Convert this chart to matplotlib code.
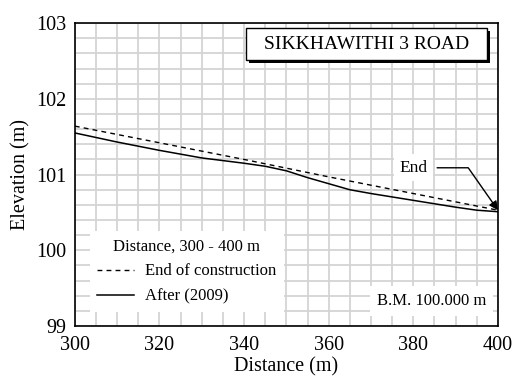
import matplotlib.pyplot as plt
from matplotlib.patches import Rectangle
from matplotlib.ticker import MultipleLocator

plt.rcParams['font.family'] = 'serif'
plt.rcParams['font.serif'] = ['Liberation Serif', 'DejaVu Serif']

# end of construction profile
dist_end = [300, 320, 340, 360, 380, 400]
elev_end = [101.64, 101.42, 101.20, 100.97, 100.75, 100.53]

# after (2009)
dist_after = [300, 310, 320, 330, 340, 345, 350, 355, 360, 365, 370, 380, 390, 395, 400]
elev_after = [101.55, 101.43, 101.32, 101.22, 101.15, 101.11, 101.05, 100.96,
              100.88, 100.80, 100.75, 100.66, 100.57, 100.53, 100.51]

fig = plt.figure(figsize=(5.16, 3.85), dpi=100)
ax = fig.add_subplot(111)
fig.subplots_adjust(left=0.145, right=0.965, top=0.940, bottom=0.153)

ax.plot(dist_end, elev_end, color='black', lw=1.0, dashes=(3.5, 3),
        label='End of construction', zorder=3)
ax.plot(dist_after, elev_after, color='black', lw=1.1,
        label='After (2009)', zorder=3)

ax.set_xlim(300, 400)
ax.set_ylim(99, 103)
ax.xaxis.set_major_locator(MultipleLocator(20))
ax.xaxis.set_minor_locator(MultipleLocator(5))
ax.yaxis.set_major_locator(MultipleLocator(1))
ax.yaxis.set_minor_locator(MultipleLocator(0.2))
ax.grid(which='both', color='#d4d4d4', lw=1.3, zorder=0)
ax.set_axisbelow(True)
ax.tick_params(which='both', length=0)
ax.tick_params(axis='x', labelsize=14.5, pad=7)
ax.tick_params(axis='y', labelsize=14.5, pad=6)
for s in ax.spines.values():
    s.set_linewidth(1.2)
    s.set_zorder(5)

ax.set_xlabel('Distance (m)', fontsize=14.5, labelpad=2)
ax.set_ylabel('Elevation (m)', fontsize=14.5, labelpad=4)

leg = ax.legend(title='Distance, 300 - 400 m', loc='lower left',
                bbox_to_anchor=(0.035, 0.046), borderaxespad=0,
                fontsize=12, title_fontsize=12, fancybox=False,
                framealpha=1, edgecolor='none', handlelength=2.2,
                handletextpad=0.7, labelspacing=0.55, borderpad=0.45)
leg.set_zorder(4)

# title box with shadow
ax.add_patch(Rectangle((0.411, 0.868), 0.570, 0.105, transform=ax.transAxes,
                       facecolor='black', edgecolor='none', zorder=6))
ax.add_patch(Rectangle((0.404, 0.878), 0.570, 0.105, transform=ax.transAxes,
                       facecolor='white', edgecolor='black', lw=1.0, zorder=7))
ax.text(0.689, 0.930, 'SIKKHAWITHI 3 ROAD', transform=ax.transAxes,
        ha='center', va='center', fontsize=14, zorder=8)

ax.text(0.972, 0.083, 'B.M. 100.000 m', transform=ax.transAxes,
        ha='right', va='center', fontsize=12, zorder=6,
        bbox=dict(facecolor='white', edgecolor='none', pad=5))

ax.annotate('End', xy=(400, 100.53), xytext=(380, 101.09), fontsize=12.5,
            ha='center', va='center', zorder=6,
            bbox=dict(facecolor='white', edgecolor='none', pad=4),
            arrowprops=dict(arrowstyle='-|>', color='black', lw=1.0,
                            mutation_scale=13, shrinkA=3, shrinkB=0,
                            connectionstyle='angle,angleA=0,angleB=125,rad=0'))

fig.savefig('out.png', dpi=100)
